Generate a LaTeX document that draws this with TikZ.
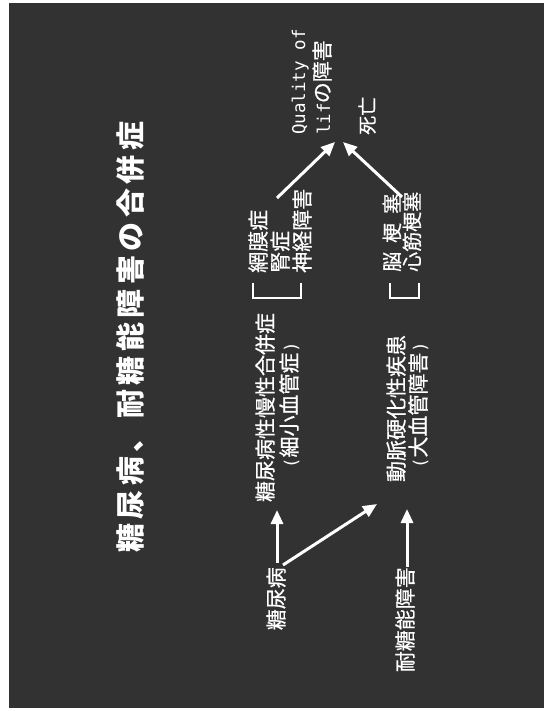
\documentclass[tikz,border=0pt]{standalone}
\usepackage{fontspec}
\usetikzlibrary{arrows.meta}
\newfontfamily\jp{Noto Sans CJK JP}[FakeBold=0.6]
\newfontfamily\jpt{Noto Sans CJK JP}
\newfontfamily\mono{DejaVu Sans Mono}
\definecolor{bg}{RGB}{50,50,50}
\newcommand\tk{\kern4.5pt}
\begin{document}
\begin{tikzpicture}[x=1pt,y=-1pt,
  txt/.style={text=white, inner sep=0pt, rotate=90},
  body/.style={txt, font=\jp\fontsize{21}{21}\selectfont, text height=16pt, text depth=0pt},
  small/.style={txt, font=\jp\fontsize{20}{20}\selectfont, text height=15pt, text depth=0pt},
  ttl/.style={txt, font=\jpt\bfseries\fontsize{29}{29}\selectfont, text height=22pt, text depth=0pt},
  qol/.style={txt, font=\mono\fontsize{17.5}{17.5}\selectfont},
  arr/.style={draw=white, line width=3pt, -{Triangle[length=14pt,width=12pt]}},
  brk/.style={draw=white, line width=2.5pt}]
\useasboundingbox (0,0) rectangle (546,711);
\fill[white] (0,0) rectangle (546,711);
\fill[bg] (9,3) rectangle (544,708);
% title
\node[ttl] (title) at (130,337) {糖\tk 尿\tk 病\tk 、\tk 耐\tk 糖\tk 能\tk 障\tk 害\tk の\tk 合\tk 併\tk 症};
% middle column texts
\node[body] (t1) at (265,407.5) {糖尿病性慢性合併症};
\node[body] (t2) at (289,405) {{\mono\fontsize{17.5}{17.5}\selectfont(}細小血管症{\mono\fontsize{17.5}{17.5}\selectfont)}};
\node[body] (t3) at (396,408.5) {動脈硬化性疾患};
\node[body] (t4) at (418,405) {{\mono\fontsize{17.5}{17.5}\selectfont(}大血管障害{\mono\fontsize{17.5}{17.5}\selectfont)}};
% bracket groups
\node[body, anchor=west] (g1a) at (258,273) {網膜症};
\node[body, anchor=west] (g1b) at (280,273) {腎症};
\node[body, anchor=west] (g1c) at (302,273) {神経障害};
\node[small, anchor=west] (g2a) at (392,272) {脳\kern9pt 梗\kern9pt 塞};
\node[small, anchor=west] (g2b) at (412,272) {心筋梗塞};
\draw[brk] (253,283) -- (253,298) -- (301,298) -- (301,283);
\draw[brk] (390,283) -- (390,298) -- (419,298) -- (419,283);
% outcomes
\node[qol, anchor=base west] (q1) at (305,135) {Quality of};
\node[qol, anchor=base west] (q2) at (330,135) {lif{\jp\fontsize{21}{21}\selectfont の障害}};
\node[txt, font=\jp\fontsize{19}{19}\selectfont, text height=14.5pt, text depth=0pt, anchor=west] (death) at (367,135) {死亡};
% bottom sources
\node[body, anchor=east] (dm) at (276,567) {糖尿病};
\node[body, anchor=east] (igt) at (405,567) {耐糖能障害};
% arrow coordinates
\coordinate (g1top) at (277,198);
\coordinate (g2top) at (402,197);
\coordinate (qtipL) at (335,142);
\coordinate (qtipR) at (343,142);
\coordinate (dmtop) at (277,563);
\coordinate (dmdiag) at (283,565);
\coordinate (t1bot) at (277,510);
\coordinate (t3botL) at (377,504);
\coordinate (igttop) at (407,567);
\coordinate (t3bot) at (407,509);
\draw[arr] (g1top) -- (qtipL);
\draw[arr] (g2top) -- (qtipR);
\draw[arr] (dmtop) -- (t1bot);
\draw[arr] (dmdiag) -- (t3botL);
\draw[arr] (igttop) -- (t3bot);
\end{tikzpicture}
\end{document}
